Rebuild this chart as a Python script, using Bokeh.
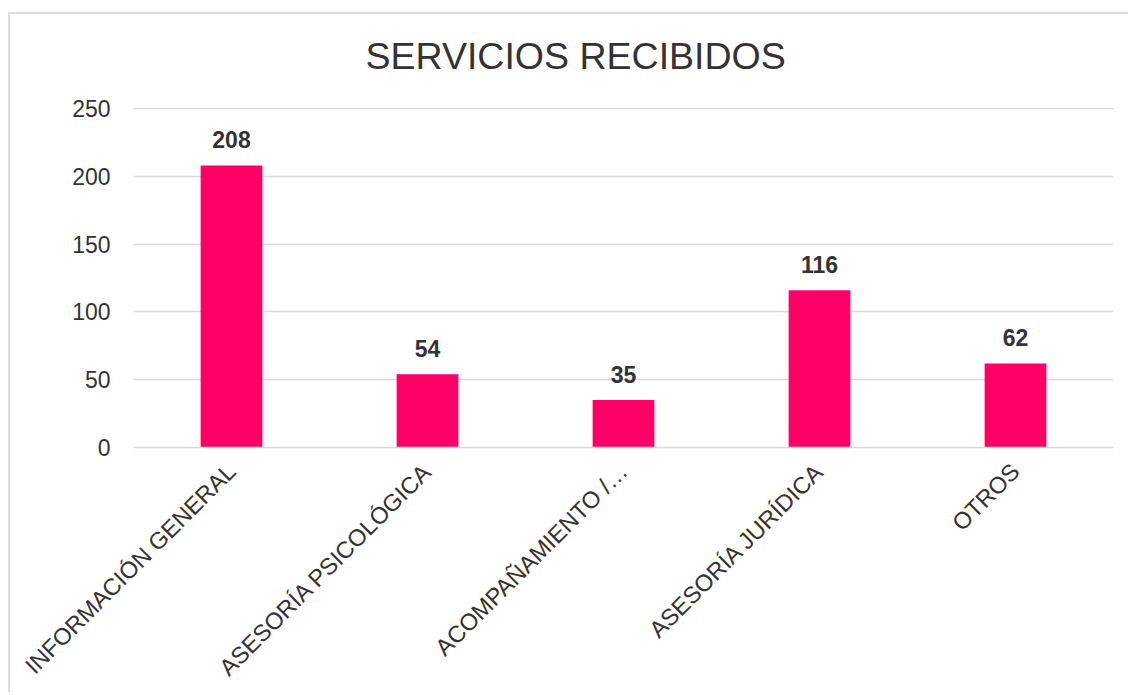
import math
from bokeh.plotting import figure
from bokeh.models import FactorRange, Range1d, FixedTicker, ColumnDataSource
from bokeh.core.properties import value
from bokeh.embed import file_html
from bokeh.resources import INLINE

categories = ["INFORMACIÓN GENERAL", "ASESORÍA PSICOLÓGICA", "ACOMPAÑAMIENTO /…",
              "ASESORÍA JURÍDICA", "OTROS"]
counts = [208, 54, 35, 116, 62]
y_ticks = [0, 50, 100, 150, 200, 250]

FONT = "Liberation Sans"
TXT = "#333333"

src = ColumnDataSource(dict(cat=categories, val=counts, lab=[str(v) for v in counts]))

p = figure(x_range=FactorRange(*categories, range_padding=0),
           y_range=Range1d(0, 250.8),
           width=1128, height=692, output_backend="svg", toolbar_location=None,
           min_border_left=133, min_border_right=15, min_border_top=107, min_border_bottom=240)

# chart-area border (top and left edges only are visible in the reference)
p.styles = {"background-color": "white",
            "box-shadow": ("inset 0 12px 0 0 white, inset 8px 0 0 0 white, "
                           "inset 0 14px 0 0 #dcdcdc, inset 10px 0 0 0 #dcdcdc")}

p.vbar(x="cat", top="val", width=0.315, source=src, fill_color="#FF0066", line_color=None)
p.text(x="cat", y="val", text="lab", source=src, text_align="center",
       text_baseline="alphabetic", y_offset=-26, text_font=value(FONT),
       text_font_size="23px", text_font_style="bold", text_color=TXT)

p.title.text = "SERVICIOS RECIBIDOS"
p.title.align = "left"
p.title.offset = 232
p.title.standoff = 61
p.title.text_font = FONT
p.title.text_font_size = "37.5px"
p.title.text_font_style = "normal"
p.title.text_color = TXT

p.yaxis.ticker = FixedTicker(ticks=y_ticks)
p.yaxis.axis_line_color = None
p.yaxis.major_tick_line_color = None
p.yaxis.minor_tick_line_color = None
p.yaxis.major_label_text_font = FONT
p.yaxis.major_label_text_font_size = "23px"
p.yaxis.major_label_text_color = TXT
p.yaxis.major_label_standoff = 17

p.xaxis.axis_line_color = "#d9d9d9"
p.xaxis.axis_line_width = 1.5
p.xaxis.major_tick_line_color = None
p.xaxis.minor_tick_line_color = None
p.xaxis.major_label_orientation = math.pi / 4
p.xaxis.major_label_text_font = FONT
p.xaxis.major_label_text_font_size = "23.5px"
p.xaxis.major_label_text_color = TXT
p.xaxis.major_label_standoff = 14

p.xgrid.grid_line_color = None
p.ygrid.grid_line_color = "#d9d9d9"
p.ygrid.grid_line_width = 1.5
p.outline_line_color = None
p.background_fill_color = "white"
p.border_fill_color = None

open("out.html", "w").write(file_html(p, INLINE))
